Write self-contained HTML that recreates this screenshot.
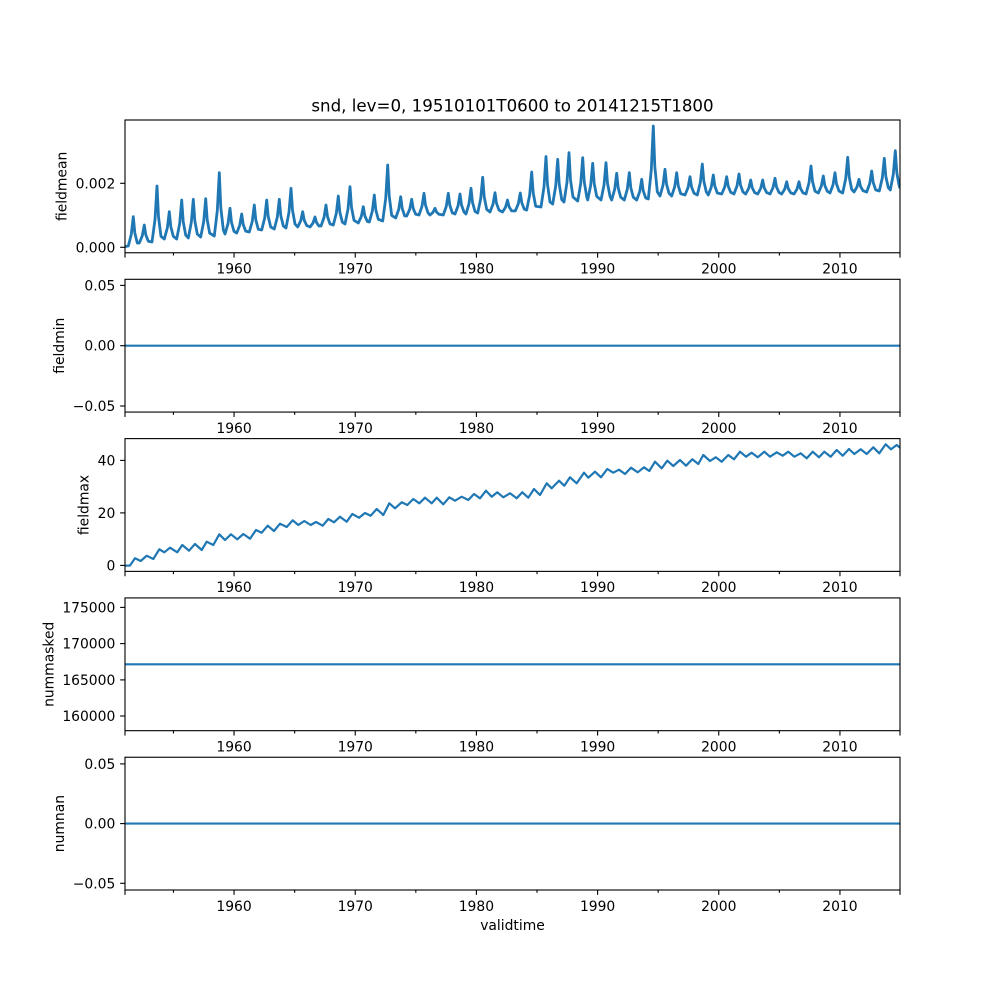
<!DOCTYPE html>
<html><head><meta charset="utf-8"><style>
html,body{margin:0;padding:0;background:#fff;}
svg{display:block;}
text{font-family:"DejaVu Sans","Liberation Sans",sans-serif;fill:#000;}
</style></head><body>
<svg width="1000" height="1000" viewBox="0 0 1000 1000" xmlns="http://www.w3.org/2000/svg">
<defs>
<clipPath id="c1"><rect x="125" y="120" width="775" height="132.76"/></clipPath>
<clipPath id="c3"><rect x="125" y="438.62" width="775" height="132.76"/></clipPath>
</defs>
<rect width="1000" height="1000" fill="#fff"/>

<text x="512.5" y="111.7" font-size="16.67" text-anchor="middle">snd, lev=0, 19510101T0600 to 20141215T1800</text>

<g clip-path="url(#c1)">
<polyline fill="none" stroke="#1f77b4" stroke-width="2.8" stroke-linejoin="round" points="125,246.5 128.3,246 131.3,234.3 133.3,216.7 134.8,232.8 137.3,243.1 139.3,243 142.3,235.8 144.3,225 145.8,234.9 148.3,241.2 152,242 155,219.6 157,186 158.5,216.8 161,236.4 164.3,239 167.3,228.1 169.3,211.7 170.8,226.7 173.3,236.3 176.7,239 179.7,223.4 181.7,200 183.2,221.5 185.7,235.1 188.3,238 191.3,222.5 193.3,199.3 194.8,220.6 197.3,234.1 200.7,237 203.7,221.7 205.7,198.7 207.2,219.8 209.7,233.2 214.3,236 217.3,210.7 219.3,172.7 220.8,207.5 223.3,229.7 225,234 228,223.7 230,208.3 231.5,222.4 234,231.4 236.7,233 239.7,225.4 241.7,214 243.2,224.5 245.7,231.1 249.3,232 252.3,221.2 254.3,205 255.8,219.9 258.3,229.3 261.7,230 264.7,218 266.7,200 268.2,216.5 270.7,227 274.3,229 277.3,217.1 279.3,199.3 280.8,215.6 283.3,226 286,228 289,212.1 291,188.3 292.5,210.1 295,224 297.7,227 300.7,220.9 302.7,211.7 304.2,220.1 306.7,225.5 310,227 313,223 315,217 316.5,222.5 319,226 321,226 324,217.6 326,205 327.5,216.6 330,223.9 333.3,225 336.3,213.4 338.3,196 339.8,212 342.3,222.1 345,224 348,209.1 350,186.7 351.5,207.2 354,220.3 358.3,223 361.3,216.5 363.3,206.7 364.8,215.7 367.3,221.4 369.3,222 372.3,211.2 374.3,195 375.8,209.9 378.3,219.3 382.7,221 385.7,198.6 387.7,165 389.2,195.8 391.7,215.4 395.7,218 398.7,209.5 400.7,196.7 402.2,208.4 404.7,215.9 406.7,216 409.7,209.3 411.7,199.3 413.2,208.5 415.7,214.3 419,215 422,206.3 424,193.3 425.5,205.2 428,212.8 430,215 433,212.3 435,208.3 436.5,212 439,214.3 443.3,215 446.3,206.3 448.3,193.3 449.8,205.2 452.3,212.8 455,214 458,206 460,194 461.5,205 464,212 466,214 469,203.7 471,188.3 472.5,202.4 475,211.4 477.7,213 480.7,198.7 482.7,177.3 484.2,196.9 486.7,209.4 490,212 493,204.3 495,192.7 496.5,203.3 499,210.1 502.5,212 505.5,207.2 507.5,200 509,206.6 511.5,210.8 515.3,211 518.3,203.8 520.3,193 521.8,202.9 524.3,209.2 526.7,210 529.7,194.8 531.7,172 533.2,192.9 535.7,206.2 541,207 544,186.8 546,156.5 547.5,184.3 550,202 552.7,204 555.7,186.1 557.7,159.3 559.2,183.9 561.7,199.5 564,202 567,182.3 569,152.7 570.5,179.8 573,197.1 577.7,201 580.7,183.7 582.7,157.7 584.2,181.5 586.7,196.7 587.7,200 590.7,185.3 592.7,163.3 594.2,183.5 596.7,196.3 601,200 604,185.1 606,162.7 607.5,183.2 610,196.3 611.7,200 614.7,189.3 616.7,173.3 618.2,188 620.7,197.3 624.3,200 627.3,189.1 629.3,172.7 630.8,187.7 633.3,197.3 636.7,200 639.7,191.7 641.7,179.3 643.2,190.7 645.7,197.9 648.3,199 651.3,169.8 653.3,126 654.8,166.2 657.3,191.7 660,196 663,185.3 665,169.3 666.5,184 669,193.3 671.7,196 674.7,186.7 676.7,172.7 678.2,185.5 680.7,193.7 685,195 688,187.7 690,176.7 691.5,186.8 694,193.2 697.3,195 700.3,182.6 702.3,164 703.8,181.1 706.3,191.9 708.3,195 711.3,187 713.3,175 714.8,186 717.3,193 721.7,194 724.7,187.1 726.7,176.7 728.2,186.2 730.7,192.3 734,194 737,186 739,174 740.5,185 743,192 745.7,194 748.7,188.4 750.7,180 752.2,187.7 754.7,192.6 757.7,194 760.7,188.4 762.7,180 764.2,187.7 766.7,192.6 770,194 773,187.7 775,178.3 776.5,186.9 779,192.4 781.7,194 784.7,189.1 786.7,181.7 788.2,188.5 790.7,192.8 794,194 797,189.1 799,181.7 800.5,188.5 803,192.8 806,194 809,182.8 811,166 812.5,181.4 815,191.2 818.3,193 821.3,186.2 823.3,176 824.8,185.4 827.3,191.3 830,193 833,184.9 835,172.7 836.5,183.9 839,191 842.7,193 845.7,178.7 847.7,157.3 849.2,176.9 851.7,189.4 854,192 857,186.9 859,179.3 860.5,186.3 863,190.7 866.7,192 869.7,183.6 871.7,171 873.2,182.6 875.7,189.9 879.3,191 882.3,177.9 884.3,158.3 885.8,176.3 888.3,187.7 890.3,190 893.3,174.3 895.3,150.7 896.8,172.6 899,185 900,188.3"/>
</g>

<line x1="125" y1="345.7" x2="900" y2="345.7" stroke="#1f77b4" stroke-width="2.08"/>

<g clip-path="url(#c3)">
<polyline fill="none" stroke="#1f77b4" stroke-width="2.2" stroke-linejoin="round" points="125,565.7 130,565.5 135,558.3 140.7,561 146.7,555.7 153.3,559 159.3,549.3 164.3,552.3 170,547.7 177.3,552.3 182.3,545 189,550.7 195,544 201.7,550 206.7,541.7 213.3,545 219.3,534.3 225,540 231,534.3 237.3,539.3 243.3,534 250,538.7 256,530 261.7,532.7 267.7,525.7 274,531 280,523.7 286.7,527 292.7,520.3 298.3,525 304.3,521 310.7,525 316,522 322.7,525.7 328.3,519 334,522.3 340,516.7 346.7,521.7 352.3,514 359,517.7 365,513 370.7,515.7 376.7,509 383.3,515 389.3,503.3 395,508.3 401.7,502.3 407.3,505 413.3,499 419.3,503.3 425,497.7 431.7,503.3 436.7,497.7 443.3,504.3 449.3,497.3 455,500.7 461.7,496.7 468.3,500 474,494 480,498.3 486,490.7 491.7,496.7 497.3,492.3 503.3,497.3 510,493.3 516.7,498.3 522.3,492.3 528.3,497.7 534,489 540,495 546.7,483.3 551.7,488.3 559,480.7 564.3,485.7 570,477.3 576.7,483.3 584,472.7 588.3,477.7 595,471.7 601,477.3 607.3,469 613.3,472.7 619,469.7 625,474 631,467.7 637.7,472.3 644,467.3 649.3,471 655,461.7 661.7,468.3 667.3,460.7 673.3,466 680,460 686,465.7 692.3,459.3 698.3,464 703.3,455 710,461 715.7,457.3 721.7,461.7 728.3,455 734,459.3 740,451.7 746,456.7 751.7,452.7 757.7,457.3 764.3,451.7 770,456.7 776.7,452.3 782.7,455.7 788.3,451.7 794.3,456.7 800.7,453.3 806.7,458.3 812.7,451.7 819,457.3 824.3,451.7 830.7,456.7 836.7,450 842.7,455.7 849,449 854.3,454 860.7,449.3 866.7,454 873.3,447.3 879.3,453.3 885.7,444.3 891,449.3 896.7,445 900,447.7"/>
</g>

<line x1="125" y1="664.3" x2="900" y2="664.3" stroke="#1f77b4" stroke-width="2.08"/>
<line x1="125" y1="823.6" x2="900" y2="823.6" stroke="#1f77b4" stroke-width="2.08"/>

<g fill="none" stroke="#000" stroke-width="1.11">
<rect x="125" y="120" width="775" height="132.76"/>
<rect x="125" y="279.31" width="775" height="132.76"/>
<rect x="125" y="438.62" width="775" height="132.76"/>
<rect x="125" y="597.93" width="775" height="132.76"/>
<rect x="125" y="757.24" width="775" height="132.76"/>
</g>

<g stroke="#000" stroke-width="1.11">
<line x1="120.14" y1="247.3" x2="125" y2="247.3"/>
<line x1="120.14" y1="183.3" x2="125" y2="183.3"/>
<line x1="120.14" y1="285.4" x2="125" y2="285.4"/>
<line x1="120.14" y1="345.7" x2="125" y2="345.7"/>
<line x1="120.14" y1="406" x2="125" y2="406"/>
<line x1="120.14" y1="565.4" x2="125" y2="565.4"/>
<line x1="120.14" y1="512.9" x2="125" y2="512.9"/>
<line x1="120.14" y1="460.4" x2="125" y2="460.4"/>
<line x1="120.14" y1="716" x2="125" y2="716"/>
<line x1="120.14" y1="679.9" x2="125" y2="679.9"/>
<line x1="120.14" y1="643.6" x2="125" y2="643.6"/>
<line x1="120.14" y1="607.4" x2="125" y2="607.4"/>
<line x1="120.14" y1="763.9" x2="125" y2="763.9"/>
<line x1="120.14" y1="823.6" x2="125" y2="823.6"/>
<line x1="120.14" y1="883.3" x2="125" y2="883.3"/>
</g>

<g font-size="13.89" text-anchor="end">
<text x="115.3" y="252.3">0.000</text>
<text x="115.3" y="188.3">0.002</text>
<text x="115.3" y="290.4">0.05</text>
<text x="115.3" y="350.7">0.00</text>
<text x="115.3" y="411">−0.05</text>
<text x="115.3" y="570.4">0</text>
<text x="115.3" y="517.9">20</text>
<text x="115.3" y="465.4">40</text>
<text x="115.3" y="721">160000</text>
<text x="115.3" y="684.9">165000</text>
<text x="115.3" y="648.6">170000</text>
<text x="115.3" y="612.4">175000</text>
<text x="115.3" y="768.9">0.05</text>
<text x="115.3" y="828.6">0.00</text>
<text x="115.3" y="888.3">−0.05</text>
</g>

<g font-size="13.89" text-anchor="middle">
<text transform="translate(66.6,186.4) rotate(-90)">fieldmean</text>
<text transform="translate(63.8,345.7) rotate(-90)">fieldmin</text>
<text transform="translate(88.7,505) rotate(-90)">fieldmax</text>
<text transform="translate(53.6,664.3) rotate(-90)">nummasked</text>
<text transform="translate(63.8,823.6) rotate(-90)">numnan</text>
</g>

<defs>
<g id="xt">
<g stroke="#000" stroke-width="1.11">
<line x1="125" y1="0" x2="125" y2="4.86"/>
<line x1="900" y1="0" x2="900" y2="4.86"/>
<line x1="234.05" y1="0" x2="234.05" y2="4.86"/>
<line x1="355.24" y1="0" x2="355.24" y2="4.86"/>
<line x1="476.4" y1="0" x2="476.4" y2="4.86"/>
<line x1="597.6" y1="0" x2="597.6" y2="4.86"/>
<line x1="718.76" y1="0" x2="718.76" y2="4.86"/>
<line x1="839.96" y1="0" x2="839.96" y2="4.86"/>
<line x1="173.46" y1="0" x2="173.46" y2="2.78"/>
<line x1="294.66" y1="0" x2="294.66" y2="2.78"/>
<line x1="415.82" y1="0" x2="415.82" y2="2.78"/>
<line x1="537.02" y1="0" x2="537.02" y2="2.78"/>
<line x1="658.18" y1="0" x2="658.18" y2="2.78"/>
<line x1="779.38" y1="0" x2="779.38" y2="2.78"/>
</g>
<g font-size="13.89" text-anchor="middle">
<text x="234.05" y="20.8">1960</text>
<text x="355.24" y="20.8">1970</text>
<text x="476.4" y="20.8">1980</text>
<text x="597.6" y="20.8">1990</text>
<text x="718.76" y="20.8">2000</text>
<text x="839.96" y="20.8">2010</text>
</g>
</g>
</defs>
<use href="#xt" transform="translate(0,252.76)"/>
<use href="#xt" transform="translate(0,412.07)"/>
<use href="#xt" transform="translate(0,571.38)"/>
<use href="#xt" transform="translate(0,730.69)"/>
<use href="#xt" transform="translate(0,890)"/>

<text x="512.5" y="930" font-size="13.89" text-anchor="middle">validtime</text>
</svg>
</body></html>
